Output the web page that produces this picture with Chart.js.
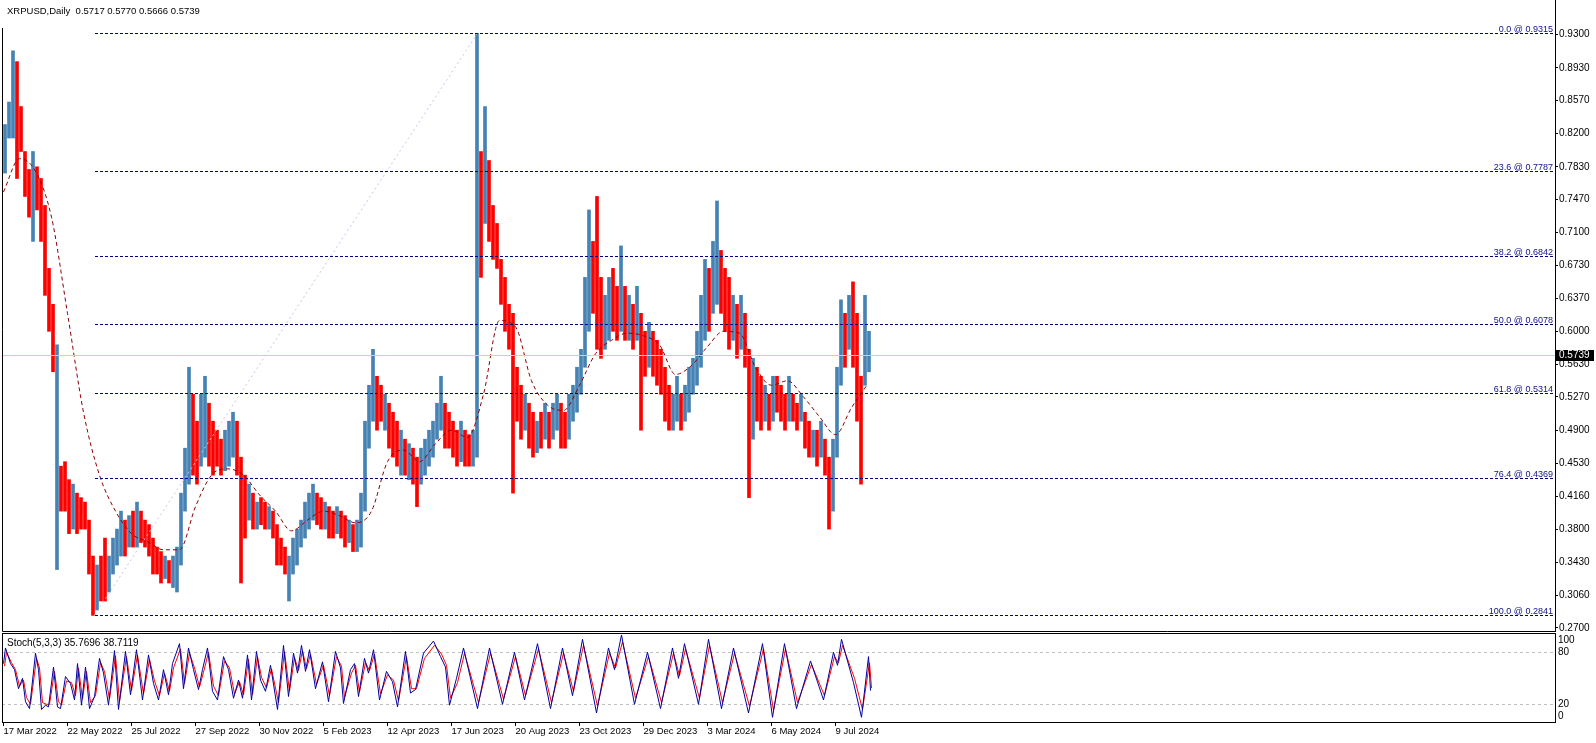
<!DOCTYPE html>
<html>
<head>
<meta charset="utf-8">
<script src="https://cdn.jsdelivr.net/npm/chart.js@4.4.1/dist/chart.umd.min.js"></script>
<style>
html, body { margin: 0; padding: 0; background: #fff; overflow: hidden; }
#wrap { position: relative; width: 1596px; height: 743px; }
#priceBox { position: absolute; left: 0; top: 0; width: 1596px; height: 632px; }
#stochBox { position: absolute; left: 0; top: 632px; width: 1596px; height: 111px; }
</style>
</head>
<body>
<div id="wrap">
  <div id="priceBox"><canvas id="priceChart"></canvas></div>
  <div id="stochBox"><canvas id="stochChart"></canvas></div>
</div>
<script>
"use strict";

// ---- data ----

// one entry for every 4 daily bars
const STEP = 4;
const lows = [
  0.776,0.815,0.815,0.77,0.80,0.75,0.727,0.70,0.735,0.70,
  0.64,0.60,0.555,0.335,0.40,0.40,0.375,0.38,0.375,0.38,
  0.38,0.33,0.284,0.29,0.30,0.30,0.31,0.33,0.34,0.35,
  0.35,0.36,0.36,0.36,0.365,0.36,0.35,0.33,0.33,0.32,
  0.325,0.32,0.315,0.31,0.34,0.40,0.43,0.44,0.43,0.45,
  0.46,0.45,0.44,0.45,0.44,0.445,
  0.45,0.46,0.44,0.32,0.37,
  0.39,0.38,0.38,0.385,0.38,0.38,0.37,0.34,0.34,0.33,
  0.30,0.33,0.34,0.36,0.37,0.38,0.39,0.385,0.38,0.38,
  0.37,0.37,0.375,0.37,0.36,0.365,0.355,0.355,0.36,0.40,
  0.47,0.50,0.49,0.50,0.49,0.47,0.46,0.45,0.44,0.44,0.435,
  0.43,0.405,0.43,0.44,0.45,0.46,0.48,0.49,0.47,0.47,
  0.46,0.45,0.455,0.45,0.45,0.45,0.46,0.66,0.72,0.70,
  0.68,0.67,0.63,0.60,0.58,0.42,0.50,0.48,0.49,0.47,
  0.46,0.465,0.47,0.48,0.47,0.48,0.49,0.47,0.47,0.48,
  0.50,0.51,0.53,0.56,0.60,0.62,0.58,0.57,0.58,0.59,
  0.60,0.59,0.60,0.59,0.59,0.58,0.59,0.49,0.55,0.56,
  0.55,0.54,
  0.53,0.50,0.49,0.49,0.50,0.49,0.50,0.51,0.53,
  0.54,0.56,0.59,0.60,0.62,0.63,0.62,0.60,0.58,0.59,
  0.57,0.58,0.56,0.415,0.48,0.50,0.49,0.50,0.49,0.50,
  0.51,0.50,0.49,0.50,0.50,0.49,0.50,0.47,0.46,0.46,
  0.45,0.46,0.44,0.38,0.40,0.46,0.54,0.56,0.58,0.56,
  0.50,0.43,0.54,0.555
];
const highs = [
  0.83,0.855,0.912,0.90,0.85,0.80,0.78,0.80,0.783,0.77,
  0.74,0.67,0.63,0.585,0.45,0.455,0.435,0.43,0.42,0.415,
  0.41,0.39,0.35,0.34,0.35,0.37,0.35,0.37,0.38,0.40,
  0.39,0.395,0.40,0.41,0.40,0.39,0.385,0.37,0.36,0.355,
  0.35,0.345,0.35,0.36,0.42,0.47,0.56,0.53,0.50,0.53,
  0.55,0.52,0.50,0.49,0.48,0.49,
  0.50,0.51,0.50,0.46,0.44,
  0.43,0.42,0.41,0.415,0.41,0.405,0.40,0.385,0.37,0.36,
  0.35,0.37,0.38,0.39,0.41,0.42,0.43,0.42,0.415,0.41,
  0.405,0.40,0.405,0.40,0.395,0.39,0.385,0.39,0.42,0.50,
  0.54,0.58,0.55,0.54,0.53,0.52,0.51,0.50,0.49,0.48,0.475,
  0.47,0.46,0.47,0.48,0.49,0.50,0.52,0.55,0.52,0.51,
  0.50,0.49,0.50,0.49,0.485,0.49,0.9315,0.80,0.85,0.79,
  0.74,0.72,0.68,0.66,0.63,0.62,0.56,0.54,0.53,0.52,
  0.51,0.50,0.51,0.52,0.51,0.52,0.53,0.52,0.51,0.53,
  0.54,0.56,0.58,0.66,0.735,0.70,0.75,0.66,0.64,0.66,
  0.67,0.65,0.695,0.65,0.64,0.63,0.65,0.62,0.60,0.61,
  0.60,0.59,
  0.58,0.56,0.54,0.53,0.55,0.53,0.54,0.56,0.57,
  0.60,0.64,0.68,0.67,0.70,0.745,0.69,0.67,0.66,0.64,
  0.63,0.64,0.62,0.58,0.57,0.56,0.55,0.54,0.53,0.55,
  0.55,0.54,0.53,0.55,0.53,0.52,0.53,0.51,0.50,0.49,
  0.49,0.50,0.48,0.46,0.48,0.56,0.635,0.62,0.64,0.655,
  0.62,0.55,0.64,0.60
];
// 1 = up bar (blue), 0 = down bar (red)
const ups = [
  1,1,1,0,0,0,0,1,0,0,
  0,0,0,1,0,0,0,1,0,0,
  0,0,0,1,0,0,1,1,1,1,
  0,1,0,1,0,0,0,0,0,0,
  1,0,1,1,1,1,1,0,0,1,
  1,0,0,0,0,1,
  1,1,0,0,0,
  1,0,1,0,0,1,0,0,0,0,
  1,1,1,1,1,1,1,0,0,1,
  0,0,1,0,0,1,0,1,1,1,
  1,1,0,0,1,0,0,0,1,0,1,
  0,0,1,1,1,1,1,1,0,0,
  0,0,1,0,0,1,1,0,1,0,
  0,0,0,0,0,0,0,0,1,0,
  0,1,0,1,0,1,1,0,0,1,
  1,1,1,1,1,0,0,0,1,1,
  0,0,1,0,1,0,1,0,0,1,
  0,0,
  0,0,0,1,1,0,1,1,1,
  1,1,1,0,1,1,0,0,0,1,
  0,1,0,0,1,0,0,1,0,1,
  0,0,0,1,0,0,1,0,0,1,
  0,1,0,0,1,1,1,0,1,0,
  0,0,1,1
];

// moving average, one value every 16 bars
const MA_STEP = 16;
const maValues = [
  0.755,0.792,0.778,0.727,0.62,0.51,0.44,0.40,0.375,0.366,
  0.357,0.357,0.405,0.44,0.447,0.44,0.418,0.40,0.378,0.39,
  0.40,0.395,0.387,0.40,0.455,0.468,0.455,0.475,0.49,0.482,
  0.53,0.612,0.605,0.545,0.518,0.512,0.54,0.575,0.59,0.598,
  0.595,0.585,0.552,0.562,0.583,0.60,0.598,0.56,0.54,0.545,
  0.527,0.505,0.485,0.515,0.541
];

// fibonacci retracement
const fibLevels = [0.0, 23.6, 38.2, 50.0, 61.8, 76.4, 100.0];
const fibPrices = [0.9315, 0.7787, 0.6842, 0.6078, 0.5314, 0.4369, 0.2841];
const fibLowBar = 91;
const fibHighBar = 474;

const lastPrice = 0.5739;
const titleText = "XRPUSD,Daily  0.5717 0.5770 0.5666 0.5739";

const priceTicks = [0.9300,0.8930,0.8570,0.8200,0.7830,0.7470,0.7100,0.6730,0.6370,0.6000,
                    0.5630,0.5270,0.4900,0.4530,0.4160,0.3800,0.3430,0.3060,0.2700];

const tickBars = [0,64,128,192,256,320,384,448,512,576,640,704,768,832];
const dateLabels = ["17 Mar 2022","22 May 2022","25 Jul 2022","27 Sep 2022","30 Nov 2022",
                    "5 Feb 2023","12 Apr 2023","17 Jun 2023","20 Aug 2023","23 Oct 2023",
                    "29 Dec 2023","3 Mar 2024","6 May 2024","9 Jul 2024"];

// stochastic turning points
const stochBars = [
  0,2,7,11,15,19,22,26,32,35, 38,42,45,50,54,57,62,67,71,74,
  78,82,86,91,96,100,105,111,115,122, 127,133,139,145,150,155,160,165,169,176,
  180,185,190,195,199,204,209,214,220,225, 230,235,239,244,248,253,257,262,267,274,
  280,285,290,294,298,302,306,312,319,325, 332,337,340,347,351,355,361,365,370,376,
  383,389,394,402,407,412,420,430,437,442, 446,
  453,460,474,486,499,511,521,534,547,559, 569,579,593,605,611,618,631,644,657,669,
  675,681,695,705,718,730,745,759,769,781, 793,807,820,830,834,838,850,858,865,867
];
const stochMain = [
  67,85,67,60,38,50,23,15,79,60, 14,19,17,63,17,15,52,44,25,67,
  19,63,15,29,73,56,19,82,14,81, 31,83,25,77,44,25,60,31,67,90,
  38,85,60,37,60,85,35,25,75,60, 27,48,27,77,25,81,48,35,65,14,
  88,29,79,56,88,58,83,38,69,23, 81,62,21,60,67,29,73,56,83,25,
  58,46,17,81,33,37,79,93,75,63, 19,
  50,85,15,85,20,80,25,90,15,85, 30,95,10,85,60,100,20,80,15,85,
  50,90,20,95,15,85,10,90,5,90, 15,70,25,80,65,95,45,5,75,35.77
];
const stochSignal = [
  64,80,68,60,41,48,28,20,73,62, 22,20,20,58,23,19,47,45,30,62,
  26,58,22,30,68,58,26,76,23,75, 36,77,32,72,47,30,56,35,62,84,
  44,79,62,40,57,80,41,30,70,62, 32,46,31,72,31,75,51,39,61,22,
  81,35,74,59,82,61,78,43,65,30, 75,64,28,56,65,34,68,59,78,32,
  54,48,24,75,38,38,73,88,78,65, 27,
  45,79,22,79,26,75,30,84,22,79, 35,88,18,79,62,92,27,75,22,79,
  53,84,27,88,22,79,18,84,13,84, 22,66,30,75,68,88,50,14,68,38.71
];
const SIGNAL_LAG = 1;
const stochLevels = [80, 20];
const stochLabels = [100, 80, 20, 0];
const stochTitle = "Stoch(5,3,3) 35.7696 38.7119";

// ---- layout constants ----
const X_MIN = -1.5, X_MAX = 1551.5;      // 1 px per bar
const P_MIN = 0.26665, P_MAX = 0.96854;
const S_MIN = -0.42, S_MAX = 102.27;
const AXIS_W = 41;
const FONT = '"Liberation Sans", Arial, sans-serif';

Chart.defaults.font.family = FONT;
Chart.defaults.font.size = 10;
Chart.defaults.color = "#000";

const barData = lows.map((lo, k) => ({ x: k * STEP + 1.5, y: [lo, highs[k]] }));
const barColors = ups.map(u => u ? "#4682B4" : "#FF0000");
const maData = maValues.map((v, j) => ({ x: j * MA_STEP, y: v }));


// fib lines, bid line, title, borders
const pricePlugin = {
    id: "priceDecor",
    afterDatasetsDraw(chart) {
        const ctx = chart.ctx, a = chart.chartArea;
        const x = chart.scales.x, y = chart.scales.y;
        ctx.save();
        ctx.beginPath();
        ctx.rect(a.left, a.top, a.right - a.left, a.bottom - a.top);
        ctx.clip();

        // fib trend line
        ctx.strokeStyle = "#c6c6ea";
        ctx.lineWidth = 1;
        ctx.setLineDash([2, 3]);
        ctx.beginPath();
        ctx.moveTo(x.getPixelForValue(fibLowBar), y.getPixelForValue(fibPrices[6]));
        ctx.lineTo(x.getPixelForValue(fibHighBar), y.getPixelForValue(fibPrices[0]));
        ctx.stroke();

        // fib levels
        const x0 = Math.round(x.getPixelForValue(fibLowBar));
        ctx.strokeStyle = "#000080";
        ctx.setLineDash([3, 2]);
        ctx.fillStyle = "#10108a";
        ctx.font = "9px " + FONT;
        ctx.textAlign = "right";
        ctx.textBaseline = "alphabetic";
        fibPrices.forEach((p, i) => {
            const py = Math.round(y.getPixelForValue(p)) + 0.5;
            ctx.beginPath();
            ctx.moveTo(x0, py);
            ctx.lineTo(a.right, py);
            ctx.stroke();
            ctx.fillText(fibLevels[i].toFixed(1) + " @ " + p.toFixed(4), a.right - 2, py - 2);
        });

        // bid line
        const by = Math.round(y.getPixelForValue(lastPrice)) + 0.5;
        ctx.setLineDash([]);
        ctx.strokeStyle = "#a9dbe6";
        ctx.beginPath();
        ctx.moveTo(a.left, by);
        ctx.lineTo(a.right, by);
        ctx.stroke();
        ctx.restore();
    },
    afterDraw(chart) {
        const ctx = chart.ctx, a = chart.chartArea;
        const y = chart.scales.y;
        ctx.save();
        // borders
        ctx.strokeStyle = "#000";
        ctx.lineWidth = 1;
        ctx.beginPath();
        ctx.moveTo(a.left + 0.5, 28);
        ctx.lineTo(a.left + 0.5, a.bottom + 0.5);
        ctx.lineTo(a.right + 0.5, a.bottom + 0.5);
        ctx.moveTo(a.right + 0.5, 0);
        ctx.lineTo(a.right + 0.5, a.bottom + 1);
        ctx.stroke();

        // bid label
        const by = Math.round(y.getPixelForValue(lastPrice));
        ctx.fillStyle = "#000";
        ctx.fillRect(a.right + 1, by - 5, 38, 11);
        ctx.fillStyle = "#fff";
        ctx.font = "10px " + FONT;
        ctx.textAlign = "left";
        ctx.textBaseline = "middle";
        ctx.fillText(lastPrice.toFixed(4), a.right + 4, by + 0.5);

        // title
        ctx.fillStyle = "#000";
        ctx.font = "9.5px " + FONT;
        ctx.textBaseline = "alphabetic";
        ctx.fillText(titleText, 7, 14);
        ctx.restore();
    }
};

const stochPlugin = {
    id: "stochDecor",
    beforeDatasetsDraw(chart) {
        const ctx = chart.ctx, a = chart.chartArea, y = chart.scales.y;
        ctx.save();
        ctx.strokeStyle = "#c0c0c0";
        ctx.lineWidth = 1;
        ctx.setLineDash([3, 3]);
        stochLevels.forEach(v => {
            const py = Math.round(y.getPixelForValue(v)) + 0.5;
            ctx.beginPath();
            ctx.moveTo(a.left, py);
            ctx.lineTo(a.right, py);
            ctx.stroke();
        });
        ctx.restore();
    },
    afterDraw(chart) {
        const ctx = chart.ctx, a = chart.chartArea, y = chart.scales.y;
        ctx.save();
        ctx.strokeStyle = "#000";
        ctx.lineWidth = 1;
        ctx.strokeRect(a.left + 0.5, a.top + 0.5, a.right - a.left, a.bottom - a.top);

        ctx.fillStyle = "#000";
        ctx.font = "10px " + FONT;
        ctx.textAlign = "left";
        ctx.textBaseline = "middle";
        stochLabels.forEach(v => {
            let py = y.getPixelForValue(v);
            py = Math.min(Math.max(py, a.top + 7), a.bottom - 6);
            ctx.fillText(String(v), a.right + 3, py);
        });

        ctx.textBaseline = "alphabetic";
        ctx.fillText(stochTitle, 7, a.top + 13);
        ctx.restore();
    }
};


new Chart(document.getElementById("priceChart"), {
    type: "bar",
    data: {
        datasets: [
            {
                type: "line",
                data: maData,
                borderColor: "#8B0000",
                borderWidth: 1,
                borderDash: [4, 3],
                pointRadius: 0,
                tension: 0.4,
                cubicInterpolationMode: "monotone",
                order: 0
            },
            {
                type: "bar",
                data: barData,
                backgroundColor: barColors,
                borderWidth: 0,
                barThickness: 3,
                grouped: false,
                order: 1
            }
        ]
    },
    options: {
        responsive: true,
        maintainAspectRatio: false,
        animation: false,
        devicePixelRatio: 1,
        events: [],
        layout: { padding: { left: 2, top: 0, right: 0, bottom: 1 } },
        plugins: { legend: { display: false }, tooltip: { enabled: false } },
        scales: {
            x: {
                type: "linear", min: X_MIN, max: X_MAX, offset: false, bounds: "data",
                display: false, grid: { offset: false }
            },
            y: {
                type: "linear", position: "right", min: P_MIN, max: P_MAX,
                beginAtZero: false, bounds: "data",
                afterFit(s) { s.width = AXIS_W; s.paddingTop = 0; s.paddingBottom = 0; },
                afterBuildTicks(s) { s.ticks = priceTicks.map(v => ({ value: v })); },
                ticks: { callback: v => Number(v).toFixed(4), padding: 1, font: { size: 10 }, color: "#000" },
                grid: { drawOnChartArea: false, drawTicks: true, tickLength: 3, color: "#000" },
                border: { display: false }
            }
        }
    },
    plugins: [pricePlugin]
});


new Chart(document.getElementById("stochChart"), {
    type: "line",
    data: {
        datasets: [
            {
                data: stochBars.map((b, i) => ({ x: b, y: stochMain[i] })),
                borderColor: "#0000A0",
                borderWidth: 1,
                pointRadius: 0,
                tension: 0
            },
            {
                data: stochBars.map((b, i) => ({ x: b + SIGNAL_LAG, y: stochSignal[i] })),
                borderColor: "#FF0000",
                borderWidth: 1,
                pointRadius: 0,
                tension: 0
            }
        ]
    },
    options: {
        responsive: true,
        maintainAspectRatio: false,
        animation: false,
        devicePixelRatio: 1,
        events: [],
        layout: { padding: { left: 2, top: 1, right: 0, bottom: 0 } },
        plugins: { legend: { display: false }, tooltip: { enabled: false } },
        scales: {
            x: {
                type: "linear", min: X_MIN, max: X_MAX, offset: false, bounds: "data",
                afterFit(s) { s.height = 21; s.paddingLeft = 0; s.paddingRight = 0; },
                afterBuildTicks(s) { s.ticks = tickBars.map(v => ({ value: v })); },
                ticks: {
                    autoSkip: false, maxRotation: 0, minRotation: 0, align: "start",
                    padding: 0, font: { size: 9.5 }, color: "#000",
                    callback: (v, i) => dateLabels[i]
                },
                grid: { drawOnChartArea: false, drawTicks: true, tickLength: 4, color: "#000", offset: false },
                border: { display: false }
            },
            y: {
                type: "linear", position: "right", min: S_MIN, max: S_MAX, bounds: "data",
                afterFit(s) { s.width = AXIS_W; s.paddingTop = 0; s.paddingBottom = 0; },
                ticks: { display: false },
                grid: { display: false },
                border: { display: false }
            }
        }
    },
    plugins: [stochPlugin]
});
</script>
</body>
</html>
